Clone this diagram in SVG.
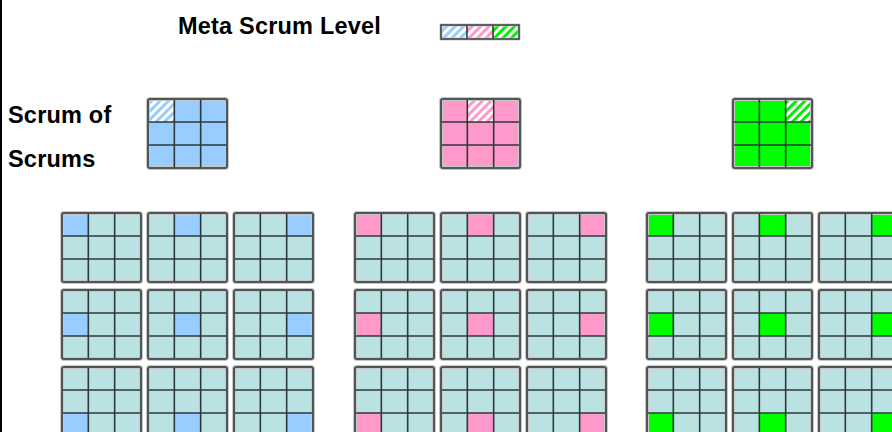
<svg xmlns="http://www.w3.org/2000/svg" xmlns:xlink="http://www.w3.org/1999/xlink" width="892" height="432" viewBox="0 0 892 432">
<style>
.t{font-family:"Liberation Sans",Arial,sans-serif;font-weight:bold;font-size:23.5px;letter-spacing:0.2px;fill:#000}
.tc{fill:#bae2e3}
.b{fill:#99ccff}
.p{fill:#ff99cc}
.g{fill:#00ff00}
.hb{fill:url(#hatchB)}
.hp{fill:url(#hatchP)}
.hg{fill:url(#hatchG)}
</style>
<defs>
<pattern id="hatchB" patternUnits="userSpaceOnUse" width="6" height="6" patternTransform="rotate(45)"><rect width="6" height="6" fill="#99ccff"/><rect width="3" height="6" fill="#fff"/></pattern>
<pattern id="hatchP" patternUnits="userSpaceOnUse" width="6" height="6" patternTransform="rotate(45)"><rect width="6" height="6" fill="#ff99cc"/><rect width="3" height="6" fill="#fff"/></pattern>
<pattern id="hatchG" patternUnits="userSpaceOnUse" width="6" height="6" patternTransform="rotate(45)"><rect width="6" height="6" fill="#00ee00"/><rect width="3" height="6" fill="#fff"/></pattern>
<g id="gl">
<rect x="0" y="0" width="79" height="69" rx="2" fill="none" stroke="#c8c8c8" stroke-width="4"/>
<path d="M26.33 0V69M52.67 0V69M0 23H79M0 46H79" stroke="#2e3838" stroke-width="1.6" fill="none"/>
<rect x="0" y="0" width="79" height="69" rx="2" fill="none" stroke="#505656" stroke-width="2"/>
</g>
</defs>
<rect x="0" y="0" width="892" height="432" fill="#fff"/>
<rect x="0" y="0" width="2" height="432" fill="#000"/>

<g id="labels">
<text class="t" x="178" y="34">Meta Scrum Level</text>
<text class="t" x="8" y="123">Scrum of</text>
<text class="t" x="8" y="167">Scrums</text>
</g>

<g id="meta">
<rect class="hb" x="441" y="25" width="26" height="14"/>
<rect class="hp" x="467" y="25" width="26" height="14"/>
<rect class="hg" x="493" y="25" width="26" height="14"/>
<rect x="441" y="25" width="78" height="14" fill="none" stroke="#c8c8c8" stroke-width="3"/>
<path d="M467 25V39M493 25V39" stroke="#2e3838" stroke-width="1.6"/>
<rect x="441" y="25" width="78" height="14" fill="none" stroke="#505656" stroke-width="1.8"/>
</g>

<g id="sos-blue">
<rect class="b" x="148" y="99" width="79" height="69"/>
<rect class="hb" x="148" y="99" width="26.33" height="23"/>
<use xlink:href="#gl" x="148" y="99"/>
</g>
<g id="sos-pink">
<rect class="p" x="441" y="99" width="79" height="69"/>
<rect class="hp" x="467.33" y="99" width="26.33" height="23"/>
<use xlink:href="#gl" x="441" y="99"/>
</g>
<g id="sos-green">
<rect class="g" x="733" y="99" width="79" height="69"/>
<rect class="hg" x="785.67" y="99" width="26.33" height="23"/>
<use xlink:href="#gl" x="733" y="99"/>
</g>

<g id="team-b-1-1"><rect class="tc" x="62" y="213" width="79" height="69"/><rect class="b" x="62" y="213" width="26.33" height="23"/><use xlink:href="#gl" x="62" y="213"/></g>
<g id="team-b-1-2"><rect class="tc" x="148" y="213" width="79" height="69"/><rect class="b" x="174.33" y="213" width="26.33" height="23"/><use xlink:href="#gl" x="148" y="213"/></g>
<g id="team-b-1-3"><rect class="tc" x="234" y="213" width="79" height="69"/><rect class="b" x="286.67" y="213" width="26.33" height="23"/><use xlink:href="#gl" x="234" y="213"/></g>
<g id="team-b-2-1"><rect class="tc" x="62" y="290" width="79" height="69"/><rect class="b" x="62" y="313" width="26.33" height="23"/><use xlink:href="#gl" x="62" y="290"/></g>
<g id="team-b-2-2"><rect class="tc" x="148" y="290" width="79" height="69"/><rect class="b" x="174.33" y="313" width="26.33" height="23"/><use xlink:href="#gl" x="148" y="290"/></g>
<g id="team-b-2-3"><rect class="tc" x="234" y="290" width="79" height="69"/><rect class="b" x="286.67" y="313" width="26.33" height="23"/><use xlink:href="#gl" x="234" y="290"/></g>
<g id="team-b-3-1"><rect class="tc" x="62" y="367" width="79" height="69"/><rect class="b" x="62" y="413" width="26.33" height="23"/><use xlink:href="#gl" x="62" y="367"/></g>
<g id="team-b-3-2"><rect class="tc" x="148" y="367" width="79" height="69"/><rect class="b" x="174.33" y="413" width="26.33" height="23"/><use xlink:href="#gl" x="148" y="367"/></g>
<g id="team-b-3-3"><rect class="tc" x="234" y="367" width="79" height="69"/><rect class="b" x="286.67" y="413" width="26.33" height="23"/><use xlink:href="#gl" x="234" y="367"/></g>

<g id="team-p-1-1"><rect class="tc" x="355" y="213" width="79" height="69"/><rect class="p" x="355" y="213" width="26.33" height="23"/><use xlink:href="#gl" x="355" y="213"/></g>
<g id="team-p-1-2"><rect class="tc" x="441" y="213" width="79" height="69"/><rect class="p" x="467.33" y="213" width="26.33" height="23"/><use xlink:href="#gl" x="441" y="213"/></g>
<g id="team-p-1-3"><rect class="tc" x="527" y="213" width="79" height="69"/><rect class="p" x="579.67" y="213" width="26.33" height="23"/><use xlink:href="#gl" x="527" y="213"/></g>
<g id="team-p-2-1"><rect class="tc" x="355" y="290" width="79" height="69"/><rect class="p" x="355" y="313" width="26.33" height="23"/><use xlink:href="#gl" x="355" y="290"/></g>
<g id="team-p-2-2"><rect class="tc" x="441" y="290" width="79" height="69"/><rect class="p" x="467.33" y="313" width="26.33" height="23"/><use xlink:href="#gl" x="441" y="290"/></g>
<g id="team-p-2-3"><rect class="tc" x="527" y="290" width="79" height="69"/><rect class="p" x="579.67" y="313" width="26.33" height="23"/><use xlink:href="#gl" x="527" y="290"/></g>
<g id="team-p-3-1"><rect class="tc" x="355" y="367" width="79" height="69"/><rect class="p" x="355" y="413" width="26.33" height="23"/><use xlink:href="#gl" x="355" y="367"/></g>
<g id="team-p-3-2"><rect class="tc" x="441" y="367" width="79" height="69"/><rect class="p" x="467.33" y="413" width="26.33" height="23"/><use xlink:href="#gl" x="441" y="367"/></g>
<g id="team-p-3-3"><rect class="tc" x="527" y="367" width="79" height="69"/><rect class="p" x="579.67" y="413" width="26.33" height="23"/><use xlink:href="#gl" x="527" y="367"/></g>

<g id="team-g-1-1"><rect class="tc" x="647" y="213" width="79" height="69"/><rect class="g" x="647" y="213" width="26.33" height="23"/><use xlink:href="#gl" x="647" y="213"/></g>
<g id="team-g-1-2"><rect class="tc" x="733" y="213" width="79" height="69"/><rect class="g" x="759.33" y="213" width="26.33" height="23"/><use xlink:href="#gl" x="733" y="213"/></g>
<g id="team-g-1-3"><rect class="tc" x="819" y="213" width="79" height="69"/><rect class="g" x="871.67" y="213" width="26.33" height="23"/><use xlink:href="#gl" x="819" y="213"/></g>
<g id="team-g-2-1"><rect class="tc" x="647" y="290" width="79" height="69"/><rect class="g" x="647" y="313" width="26.33" height="23"/><use xlink:href="#gl" x="647" y="290"/></g>
<g id="team-g-2-2"><rect class="tc" x="733" y="290" width="79" height="69"/><rect class="g" x="759.33" y="313" width="26.33" height="23"/><use xlink:href="#gl" x="733" y="290"/></g>
<g id="team-g-2-3"><rect class="tc" x="819" y="290" width="79" height="69"/><rect class="g" x="871.67" y="313" width="26.33" height="23"/><use xlink:href="#gl" x="819" y="290"/></g>
<g id="team-g-3-1"><rect class="tc" x="647" y="367" width="79" height="69"/><rect class="g" x="647" y="413" width="26.33" height="23"/><use xlink:href="#gl" x="647" y="367"/></g>
<g id="team-g-3-2"><rect class="tc" x="733" y="367" width="79" height="69"/><rect class="g" x="759.33" y="413" width="26.33" height="23"/><use xlink:href="#gl" x="733" y="367"/></g>
<g id="team-g-3-3"><rect class="tc" x="819" y="367" width="79" height="69"/><rect class="g" x="871.67" y="413" width="26.33" height="23"/><use xlink:href="#gl" x="819" y="367"/></g>
</svg>
